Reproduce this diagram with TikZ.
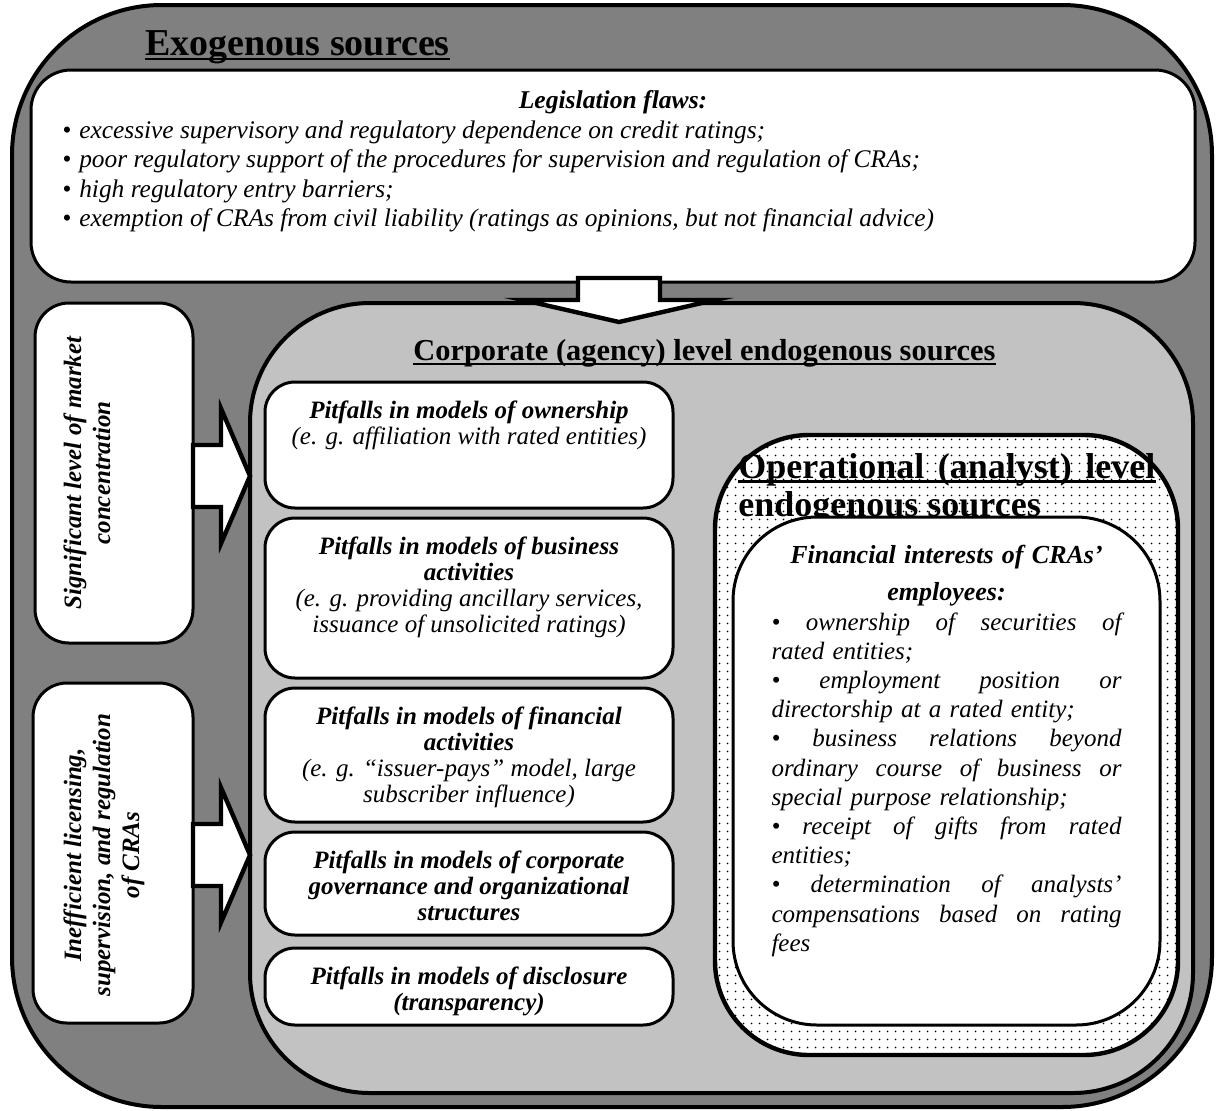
\documentclass[tikz,border=0pt]{standalone}
\usepackage{fontspec}
\setmainfont{Liberation Serif}
\usetikzlibrary{positioning,calc,patterns.meta}

\newcommand{\jline}[1]{\leavevmode\hbox to\linewidth{\spaceskip=0.25em plus 1fill\relax #1}}
\newcommand{\rightblock}[2]{%
  \draw[blockarr] let \p1=(#1), \p2=(#2) in
    (\x1,\y1+15.5pt) -- (\x2-14.5pt,\y1+15.5pt) -- (\x2-14.5pt,\y1+33.75pt)
    -- (\x2,\y1) -- (\x2-14.5pt,\y1-33.75pt) -- (\x2-14.5pt,\y1-15.5pt)
    -- (\x1,\y1-15.5pt) -- cycle;}
\newcommand{\downblock}[2]{%
  \draw[blockarr] let \p1=(#1), \p2=(#2) in
    (\x2-20.5pt,\y1+2pt) -- (\x2-20.5pt,\y2+11pt) -- (\x2-48pt,\y2+11pt)
    -- (\x2,\y2) -- (\x2+48pt,\y2+11pt) -- (\x2+20.5pt,\y2+11pt)
    -- (\x2+20.5pt,\y1+2pt) -- cycle;}

\begin{document}
\begin{tikzpicture}[x=0.5pt, y=-0.5pt, node distance=5pt,
  box/.style={draw, fill=white, inner sep=0pt, outer sep=0pt, line width=1.5pt},
  ext/.style={box, fill=black!50, line width=2pt, rounded corners=75pt},
  corp/.style={box, fill=black!24, line width=2pt, rounded corners=60pt},
  opbox/.style={box, line width=2.2pt, rounded corners=47pt, preaction={fill=white},
    pattern={Dots[distance=4pt, radius=0.5pt]}, pattern color=black},
  side/.style={box, rounded corners=17pt, minimum width=79pt, minimum height=170pt},
  pit/.style={box, rounded corners=15pt, minimum width=204pt, anchor=north},
  ptxt/.style={inner sep=0pt, align=center, font=\fontsize{12.5}{13}\selectfont\itshape},
  stxt/.style={inner sep=0pt, align=center, rotate=90, font=\fontsize{12.5}{14.5}\selectfont\bfseries\itshape},
  title/.style={inner sep=0pt, anchor=base west},
  uline/.style={line width=1.2pt},
  blockarr/.style={draw, fill=white, line width=2.2pt, line join=miter}]
  \useasboundingbox (0,0) rectangle (1216,1110);

  % exogenous sources
  \node[ext, minimum width=600pt, minimum height=551pt] (exo) at (612,556) {};
  \node[title, font=\fontsize{19}{20}\selectfont\bfseries] (exot) at (145,55) {Exogenous sources};
  \draw[uline] ([yshift=-2pt]exot.base west) -- ([yshift=-2pt]exot.base east);

  \node[box, rounded corners=20pt, minimum width=582pt, minimum height=106pt] (leg) at (613,176) {};
  \node[inner sep=0pt, below=10pt of leg.north, font=\fontsize{12.8}{15}\selectfont\bfseries\itshape] (legt) {Legislation flaws:};
  \node[inner sep=0pt, anchor=north west, align=left, font=\fontsize{12.7}{14.8}\selectfont\itshape] (legl) at (62,120) {%
    \textbullet\hspace{4pt}excessive supervisory and regulatory dependence on credit ratings;\\
    \textbullet\hspace{4pt}poor regulatory support of the procedures for supervision and regulation of CRAs;\\
    \textbullet\hspace{4pt}high regulatory entry barriers;\\
    \textbullet\hspace{4pt}exemption of CRAs from civil liability (ratings as opinions, but not financial advice)};

  \node[side] (sig) at (114,473) {};
  \node[stxt] (sigt) at (87,473) {Significant level of market\\concentration};
  \node[side, minimum width=80pt] (ine) at (113,853) {};
  \node[stxt] (inet) at (104,855) {Inefficient licensing,\\supervision, and regulation\\of CRAs};

  % corporate level
  \node[corp, minimum width=471.5pt, minimum height=395pt] (cor) at (721.5,698) {};
  \node[title, font=\fontsize{15.2}{17}\selectfont\bfseries] (cort) at (413,360) {Corporate (agency) level endogenous sources};
  \draw[uline, line width=1pt] ([yshift=-2pt]cort.base west) -- ([yshift=-2pt]cort.base east);

  \node[pit, minimum height=63pt] (own) at (469,382) {};
  \node[pit, minimum height=80pt, below=of own] (bus) {};
  \node[pit, minimum height=67pt, below=of bus] (fin) {};
  \node[pit, minimum height=51.5pt, below=of fin] (gov) {};
  \node[pit, minimum height=38.5pt, below=6.5pt of gov] (dis) {};

  \node[ptxt, below=9pt of own.north] (ownt) {\textbf{Pitfalls in models of ownership}\\(e. g. affiliation with rated entities)};
  \node[ptxt, below=9pt of bus.north] (bust) {\textbf{Pitfalls in models of business}\\\textbf{activities}\\(e. g. providing ancillary services,\\issuance of unsolicited ratings)};
  \node[ptxt, below=9pt of fin.north] (fint) {\textbf{Pitfalls in models of financial}\\\textbf{activities}\\(e. g. “issuer-pays” model, large\\subscriber influence)};
  \node[ptxt, below=9pt of gov.north, font=\fontsize{12.5}{13}\selectfont\bfseries\itshape] (govt) {Pitfalls in models of corporate\\governance and organizational\\structures};
  \node[ptxt, below=9pt of dis.north, font=\fontsize{12.5}{13}\selectfont\bfseries\itshape] (dist) {Pitfalls in models of disclosure\\(transparency)};

  % operational level
  \node[opbox, minimum width=231.5pt, minimum height=310pt] (ope) at (946.5,745) {};
  \node[title, font=\fontsize{18}{19}\selectfont\bfseries] (opet) at (738,478) {\makebox[208.5pt][s]{Operational (analyst) level}};
  \node[title, font=\fontsize{18}{19}\selectfont\bfseries] (opeu) at (738,516) {endogenous sources};
  \draw[uline, line width=1.5pt] ([yshift=-1.5pt]opet.base west) -- ([yshift=-1.5pt]opet.base east);

  \node[box, rounded corners=42pt, minimum width=213.5pt, minimum height=254pt] (emp) at (946.5,771) {};
  \node[inner sep=0pt, below=14pt of emp.north, text width=175pt, align=left,
    font=\fontsize{12.5}{14.6}\selectfont\itshape] (empt) {%
    \makebox[\linewidth]{\fontsize{13}{14.6}\selectfont\bfseries Financial interests of CRAs’}\\[4pt]
    \makebox[\linewidth]{\fontsize{13}{14.6}\selectfont\bfseries employees:}\\
    \jline{• ownership of securities of}\\
    rated entities;\\
    \jline{• employment position or}\\
    directorship at a rated entity;\\
    \jline{• business relations beyond}\\
    \jline{ordinary course of business or}\\
    special purpose relationship;\\
    \jline{• receipt of gifts from rated}\\
    entities;\\
    \jline{• determination of analysts’}\\
    \jline{compensations based on rating}\\
    fees};

  % block arrows
  \coordinate (a1) at (193,476);
  \coordinate (a2) at (193,855);
  \coordinate (dt) at (619,322);
  \rightblock{sig.east |- a1}{cor.west |- a1}
  \rightblock{ine.east |- a2}{cor.west |- a2}
  \downblock{leg.south -| dt}{dt}
\end{tikzpicture}
\end{document}
